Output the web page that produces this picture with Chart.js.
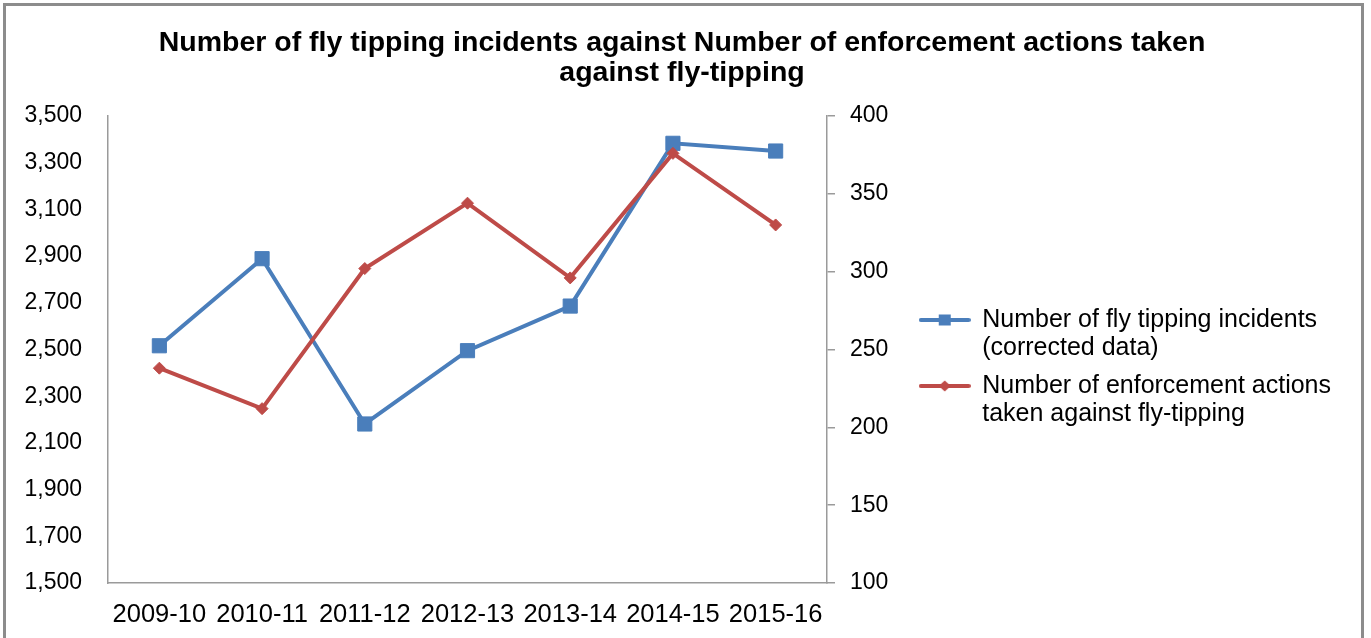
<!DOCTYPE html>
<html>
<head>
<meta charset="utf-8">
<title>Fly tipping incidents vs enforcement actions</title>
<script src="https://cdn.jsdelivr.net/npm/chart.js@4.4.1/dist/chart.umd.min.js"></script>
<style>
  html, body { margin: 0; padding: 0; background: #fff; overflow: hidden; }
  #frame { position: absolute; left: 3px; top: 3px; width: 1355px; height: 700px; border: 3px solid #8c8c8c; }
  #wrap { position: absolute; left: 0; top: 0; width: 1371px; height: 638px; }
</style>
</head>
<body>
<div id="frame"></div>
<div id="wrap"><canvas id="flyChart"></canvas></div>
<script>
// data
const years = ['2009-10', '2010-11', '2011-12', '2012-13', '2013-14', '2014-15', '2015-16'];
const incidents = [2516, 2889, 2181, 2495, 2686, 3383, 3350];
const enforcement = [238, 212, 302, 344, 296, 376, 330];

const incidentTicks = [1500, 1700, 1900, 2100, 2300, 2500, 2700, 2900, 3100, 3300, 3500];
const enforcementTicks = [100, 150, 200, 250, 300, 350, 400];

const titleLines = ['Number of fly tipping incidents against Number of enforcement actions taken', 'against fly-tipping'];
const incidentsLegend = ['Number of fly tipping incidents', '(corrected data)'];
const enforcementLegend = ['Number of enforcement actions', 'taken against fly-tipping'];

const BLUE = '#4A7EBB';
const RED = '#BE4B48';
const AXIS = '#9a9a9a';
const PLOT_LEFT = 108;
const PLOT_RIGHT = 827;
const PAD_LEFT = 23;
const PAD_RIGHT = 30;

Chart.defaults.font.family = '"Liberation Sans", Arial, sans-serif';
Chart.defaults.color = '#000';

// little line + marker picture used as the legend symbol
function legendSample(color, marker) {
    const c = document.createElement('canvas');
    c.width = 52; c.height = 16;
    const g = c.getContext('2d');
    g.strokeStyle = color;
    g.lineWidth = 4;
    g.lineCap = 'round';
    g.beginPath(); g.moveTo(2, 8); g.lineTo(50, 8); g.stroke();
    g.fillStyle = color;
    if (marker === 'rect') {
        g.fillRect(20, 2.5, 12, 11);
    } else {
        g.beginPath(); g.moveTo(26, 2.5); g.lineTo(32, 8); g.lineTo(26, 13.5); g.lineTo(20, 8); g.closePath(); g.fill();
    }
    return c;
}

const samples = [legendSample(BLUE, 'rect'), legendSample(RED, 'diamond')];
const legendText = [incidentsLegend, enforcementLegend];

const canvas = document.getElementById('flyChart');

new Chart(canvas, {
    type: 'line',
    data: {
        labels: years,
        datasets: [{
            label: incidentsLegend.join(' '),
            data: incidents,
            yAxisID: 'yLeft',
            borderColor: BLUE,
            backgroundColor: BLUE,
            borderWidth: 4,
            pointStyle: 'rect',
            pointRadius: 10,
            pointBorderWidth: 1,
            tension: 0,
            fill: false,
            order: 2
        }, {
            label: enforcementLegend.join(' '),
            data: enforcement,
            yAxisID: 'yRight',
            borderColor: RED,
            backgroundColor: RED,
            borderWidth: 4,
            pointStyle: 'rectRot',
            pointRadius: 6,
            pointBorderWidth: 1,
            tension: 0,
            fill: false,
            order: 1
        }]
    },
    options: {
        responsive: true,
        maintainAspectRatio: false,
        animation: false,
        locale: 'en-US',
        layout: { padding: { left: PAD_LEFT, right: PAD_RIGHT, top: 0, bottom: 0 } },
        scales: {
            x: {
                offset: true,
                grid: { display: false, drawTicks: false },
                border: { display: true, color: AXIS, width: 1.5 },
                ticks: { font: { size: 25.5 }, padding: 17, maxRotation: 0, autoSkip: false },
                afterFit: s => { s.height = 55; }
            },
            yLeft: {
                type: 'linear',
                position: 'left',
                min: 1500,
                max: 3500,
                grid: { display: false, drawTicks: false },
                border: { display: true, color: AXIS, width: 1.5 },
                ticks: { font: { size: 23 }, padding: 26 },
                afterBuildTicks: s => { s.ticks = incidentTicks.map(v => ({ value: v })); },
                afterFit: s => { s.width = PLOT_LEFT - PAD_LEFT; }
            },
            yRight: {
                type: 'linear',
                position: 'right',
                min: 100,
                max: 400,
                grid: { display: true, drawOnChartArea: false, drawTicks: true, tickLength: 8, color: AXIS, lineWidth: 1.5 },
                border: { display: true, color: AXIS, width: 1.5 },
                ticks: { font: { size: 23 }, padding: 15 },
                afterBuildTicks: s => { s.ticks = enforcementTicks.map(v => ({ value: v })); },
                afterFit: s => {
                    const lg = s.chart.legend;
                    s.width = s.chart.width - PAD_RIGHT - (lg ? lg.width : 440) - PLOT_RIGHT;
                }
            }
        },
        plugins: {
            title: {
                display: true,
                text: titleLines,
                color: '#000',
                font: { size: 28.5, weight: 'bold', lineHeight: '30px' },
                padding: { top: 28, bottom: 28 }
            },
            legend: {
                position: 'right',
                maxWidth: 600,
                title: { display: true, text: '', font: { size: 10, lineHeight: 1 }, padding: { top: 89, bottom: 0 } },
                labels: {
                    usePointStyle: true,
                    pointStyleWidth: 50,
                    padding: 10,
                    color: '#000',
                    font: { size: 25, lineHeight: '28px' },
                    generateLabels: chart => chart.data.datasets.map((ds, i) => ({
                        text: legendText[i],
                        pointStyle: samples[i],
                        fillStyle: ds.borderColor,
                        strokeStyle: ds.borderColor,
                        lineWidth: 0,
                        hidden: false,
                        datasetIndex: i
                    }))
                }
            },
            tooltip: { enabled: false }
        }
    }
});
</script>
</body>
</html>
